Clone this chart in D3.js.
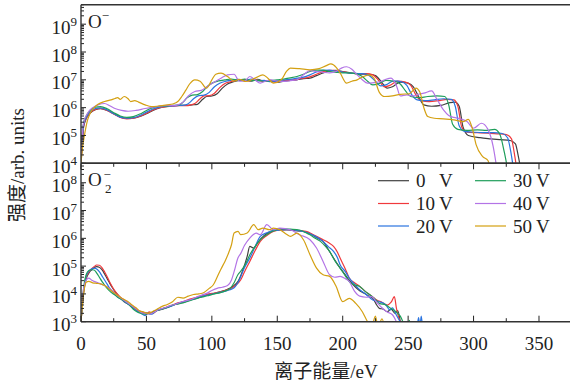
<!DOCTYPE html>
<html>
<head>
<meta charset="utf-8">
<script src="https://cdn.jsdelivr.net/npm/d3@7"></script>
<style>
  body { margin: 0; background: #fff; }
  svg text { font-family: "Liberation Serif", "DejaVu Serif", serif; fill: #222; }
</style>
</head>
<body>
<svg id="chart" width="570" height="387"></svg>
<script>
// bias voltages, one curve each
var voltages = [0, 10, 20, 30, 40, 50];
var colors = ["#404040", "#f0393c", "#2a74e0", "#1f9e5a", "#b374e6", "#d4a012"];

// points are [ion energy (eV), log10 of intensity (arb. units)]
// O- panel
var topV0 = [[0,4.0],[1,4.7],[2,5.3],[4,5.6],[7,5.8],[11,5.93],[15,5.96],[20,5.9],[25,5.78],[30,5.66],[35,5.61],[40,5.62],[45,5.68],[50,5.78],[55,5.9],[60,5.99],[65,6.04],[70,6.06],[75,6.08],[80,6.08],[85,6.1],[89,6.12],[93,6.3],[96,6.4],[100,6.42],[104,6.5],[108,6.7],[112,6.85],[116,6.92],[120,6.97],[125,7.0],[130,6.95],[135,7.02],[140,6.95],[145,6.98],[150,6.92],[155,6.95],[160,6.98],[165,7.0],[170,7.04],[175,7.06],[180,7.15],[185,7.25],[190,7.32],[195,7.34],[200,7.3],[205,7.26],[210,7.22],[215,7.2],[220,7.2],[225,7.15],[230,6.9],[234,6.7],[238,6.75],[244,6.92],[250,6.88],[254,6.75],[258,6.4],[262,6.1],[268,6.05],[275,6.08],[282,6.18],[286,6.2],[289,6.05],[292,5.3],[296,5.0],[305,4.92],[313,4.88],[320,4.85],[328,4.82],[332,4.7],[334,4.3],[336,3.8]];
var topV10 = [[0,4.0],[1,4.8],[2,5.35],[4,5.62],[7,5.82],[11,5.94],[15,5.97],[20,5.9],[25,5.77],[30,5.65],[35,5.6],[40,5.62],[45,5.69],[50,5.8],[55,5.92],[60,6.0],[65,6.04],[70,6.05],[75,6.07],[80,6.07],[84,6.1],[87,6.15],[91,6.32],[94,6.42],[98,6.43],[102,6.52],[106,6.72],[110,6.87],[114,6.93],[118,6.98],[123,7.0],[128,6.96],[133,7.02],[138,6.95],[143,6.97],[148,6.92],[153,6.95],[158,6.99],[163,7.0],[168,7.05],[173,7.08],[178,7.16],[183,7.26],[188,7.33],[193,7.34],[198,7.3],[203,7.27],[208,7.23],[213,7.22],[218,7.22],[223,7.18],[228,6.95],[232,6.75],[236,6.8],[242,6.95],[248,6.92],[252,6.8],[256,6.45],[260,6.25],[266,6.22],[273,6.25],[280,6.3],[285,6.28],[288,6.05],[291,5.3],[295,5.12],[303,5.1],[311,5.08],[318,5.06],[325,5.03],[329,4.88],[331,4.4],[333,3.8]];
var topV20 = [[0,4.0],[1,4.9],[2,5.4],[4,5.65],[7,5.85],[11,5.97],[15,5.99],[20,5.92],[25,5.78],[30,5.66],[35,5.62],[40,5.64],[45,5.72],[50,5.84],[55,5.95],[60,6.02],[65,6.05],[70,6.06],[75,6.08],[80,6.1],[83,6.18],[86,6.32],[90,6.43],[94,6.45],[98,6.55],[102,6.75],[106,6.88],[110,6.94],[114,6.98],[120,7.02],[125,6.97],[130,7.03],[135,6.96],[140,6.98],[145,6.93],[150,6.96],[155,7.0],[160,7.02],[165,7.06],[170,7.1],[175,7.18],[180,7.28],[185,7.34],[190,7.35],[195,7.31],[200,7.28],[205,7.24],[210,7.23],[215,7.22],[220,7.16],[225,6.95],[229,6.78],[233,6.82],[239,6.96],[245,6.93],[249,6.8],[253,6.45],[257,6.28],[263,6.25],[270,6.28],[277,6.32],[283,6.3],[286,6.05],[289,5.35],[293,5.15],[300,5.12],[308,5.1],[315,5.1],[322,5.07],[326,4.92],[328.5,4.4],[330.5,3.8]];
var topV30 = [[0,4.0],[1,5.0],[2,5.45],[4,5.7],[7,5.9],[11,6.02],[15,6.04],[20,5.96],[25,5.82],[30,5.7],[35,5.65],[40,5.68],[45,5.77],[50,5.9],[55,6.0],[60,6.05],[65,6.06],[70,6.08],[75,6.1],[78,6.2],[81,6.35],[85,6.45],[89,6.47],[93,6.58],[97,6.78],[101,6.9],[105,6.96],[110,7.0],[115,7.03],[120,6.98],[125,7.03],[130,6.97],[135,6.99],[140,6.94],[145,6.97],[150,7.0],[155,7.03],[160,7.07],[165,7.12],[170,7.2],[175,7.3],[180,7.35],[185,7.35],[190,7.3],[195,7.27],[200,7.25],[205,7.25],[210,7.22],[215,7.12],[219,6.95],[223,6.82],[227,6.85],[233,6.98],[239,6.95],[244,6.85],[248,6.6],[252,6.4],[258,6.36],[265,6.4],[272,6.42],[278,6.4],[281,6.1],[284,5.4],[288,5.22],[295,5.18],[303,5.2],[310,5.18],[316,5.22],[320,5.05],[323.5,4.4],[326,3.8]];
var topV40 = [[0,4.0],[1,5.0],[2,5.45],[5,5.8],[9,6.0],[13,6.1],[18,6.15],[22,6.07],[26,5.97],[31,5.9],[36,5.87],[42,5.9],[49,5.97],[55,6.02],[61,6.06],[66,6.08],[70,6.07],[74,6.1],[78,6.2],[82,6.42],[87,6.58],[92,6.62],[97,6.78],[102,6.92],[107,7.06],[112,7.18],[117,7.2],[121,6.95],[125,6.95],[129,7.12],[133,7.0],[137,6.88],[141,6.95],[145,7.0],[150,6.95],[155,6.94],[160,6.97],[165,7.0],[170,7.18],[175,7.33],[180,7.3],[185,7.27],[190,7.25],[195,7.3],[199,7.42],[203,7.47],[207,7.38],[211,7.18],[215,7.0],[219,6.88],[224,6.9],[229,6.94],[233,7.02],[237,7.06],[241,6.8],[244,6.42],[249,6.46],[254,6.42],[258,6.48],[262,6.52],[268,6.6],[272,6.3],[277,5.92],[281,5.72],[285,5.65],[290,5.6],[295,5.5],[300,5.26],[306,5.44],[311,5.22],[315,4.6],[317.5,3.9]];
var topV50 = [[0,4.0],[1,4.5],[3,5.1],[5,5.55],[7,5.8],[10,6.0],[13,6.12],[18,6.22],[23,6.28],[26,6.33],[28,6.36],[30,6.3],[33,6.4],[36,6.32],[38,6.22],[41,6.25],[44,6.2],[49,6.1],[54,6.04],[58,6.05],[62,6.07],[66,6.1],[70,6.13],[74,6.22],[77,6.4],[80,6.62],[83,6.85],[87,7.0],[91,6.95],[96,6.7],[100,7.0],[103,7.2],[107,7.24],[112,7.12],[117,6.95],[121,7.02],[126,6.94],[133,7.06],[139,7.18],[143,7.05],[147,6.88],[153,7.0],[157,7.3],[160,7.42],[167,7.4],[175,7.36],[182,7.4],[187,7.5],[191,7.57],[195,7.45],[198,7.25],[203,6.88],[207,6.95],[211,7.0],[215,7.1],[220,7.18],[224,7.05],[228,6.55],[232,6.4],[238,6.42],[244,6.48],[251,6.5],[256,6.7],[259,6.55],[262,6.0],[265,5.68],[270,5.62],[277,5.6],[285,5.56],[292,5.5],[296,5.58],[299,5.26],[302,4.66],[307,4.24],[311,4.1],[313,3.8]];

// O2- panel
var botV0 = [[0,3.0],[2,4.05],[4,4.55],[6,4.75],[8,4.86],[10,4.94],[12,4.98],[14,4.96],[16,4.87],[18,4.72],[20,4.55],[22,4.38],[24,4.22],[26,4.08],[28,3.97],[30,3.87],[33,3.72],[36,3.64],[39,3.55],[42,3.45],[45,3.36],[48,3.3],[50,3.32],[53,3.28],[56,3.38],[60,3.42],[64,3.48],[68,3.55],[72,3.62],[76,3.68],[80,3.72],[84,3.8],[88,3.84],[92,3.9],[96,3.96],[100,4.0],[104,4.05],[108,4.1],[112,4.17],[116,4.27],[120,4.45],[124,4.9],[127,5.35],[129,5.71],[132,5.65],[135,5.85],[140,6.1],[145,6.25],[150,6.3],[157,6.31],[163,6.28],[170,6.25],[176,6.15],[181,6.0],[185,5.89],[189,5.6],[193,5.29],[197,5.0],[200,4.81],[204,4.55],[208,4.33],[212,4.15],[216,4.03],[220,3.92],[223,3.84],[226,3.6],[228,3.48],[231,3.45],[234,3.36],[237,3.45],[240,3.3],[242,3.4],[244,3.0]];
var botV10 = [[0,3.0],[2,4.1],[4,4.6],[6,4.78],[8,4.9],[10,4.98],[12,5.04],[14,5.03],[16,4.95],[18,4.8],[20,4.62],[22,4.42],[24,4.25],[26,4.1],[28,3.98],[30,3.88],[33,3.78],[36,3.65],[39,3.55],[42,3.45],[45,3.38],[48,3.33],[50,3.26],[52,3.35],[55,3.3],[58,3.4],[61,3.45],[64,3.5],[67,3.55],[70,3.6],[74,3.68],[78,3.72],[82,3.8],[86,3.85],[90,3.9],[94,3.95],[98,4.0],[102,4.03],[106,4.07],[110,4.12],[114,4.18],[118,4.3],[122,4.5],[125,4.8],[129,5.17],[133,5.55],[137,5.89],[142,6.1],[147,6.25],[153,6.3],[160,6.31],[166,6.28],[172,6.25],[178,6.12],[185,5.95],[189,5.85],[193,5.71],[196,5.5],[198,5.29],[202,4.9],[205,4.57],[209,4.4],[213,4.27],[217,4.1],[221,3.96],[224,3.85],[226,3.78],[230,3.7],[234,3.6],[237,3.7],[239.5,3.9],[241,3.5],[242.5,3.2],[244,3.0]];
var botV20 = [[0,3.0],[2,4.1],[4,4.65],[6,4.82],[8,4.9],[10,4.93],[12,4.9],[14,4.8],[16,4.65],[18,4.5],[20,4.35],[22,4.2],[24,4.08],[26,3.98],[28,3.9],[31,3.8],[34,3.7],[37,3.6],[40,3.48],[43,3.38],[46,3.3],[49,3.22],[51,3.3],[54,3.27],[57,3.38],[61,3.45],[65,3.5],[69,3.56],[73,3.64],[77,3.7],[81,3.75],[85,3.8],[89,3.86],[93,3.92],[97,3.96],[101,4.0],[105,4.04],[109,4.08],[113,4.14],[117,4.22],[121,4.5],[125,4.95],[129,5.29],[133,5.7],[137,6.07],[142,6.2],[147,6.28],[153,6.3],[160,6.31],[166,6.28],[172,6.22],[178,6.1],[185,5.89],[189,5.7],[193,5.53],[196,5.3],[198,5.05],[202,4.8],[205,4.57],[209,4.35],[213,4.15],[218,3.98],[223,3.78],[228,3.72],[233,3.6],[236,3.42],[238,3.5],[241,3.24],[244,3.0],[250,2.7],[257,2.9],[258,3.15],[259,2.8],[260,3.2],[261,2.8]];
var botV30 = [[0,3.0],[2,4.2],[4,4.7],[6,4.84],[8,4.87],[10,4.86],[12,4.75],[14,4.6],[16,4.45],[18,4.32],[20,4.2],[22,4.1],[24,4.02],[26,3.96],[28,3.88],[31,3.8],[34,3.72],[37,3.6],[40,3.45],[43,3.35],[46,3.3],[49,3.27],[52,3.3],[55,3.32],[58,3.4],[62,3.46],[66,3.52],[70,3.6],[74,3.64],[78,3.68],[82,3.74],[86,3.8],[90,3.86],[94,3.9],[98,3.95],[102,4.0],[106,4.04],[110,4.1],[114,4.2],[117,4.4],[120,4.7],[122,4.81],[126,5.1],[129,5.41],[133,5.7],[137,5.95],[141,6.1],[144,6.19],[148,6.28],[152,6.35],[160,6.33],[167,6.3],[172,6.2],[175,6.13],[179,6.0],[183,5.89],[187,5.7],[190,5.53],[194,5.2],[198,4.93],[202,4.65],[206,4.39],[209,4.33],[213,4.27],[217,4.1],[221,3.96],[225,3.8],[228,3.66],[233,3.6],[236,3.5],[239,3.42],[242,3.3],[244,3.2],[246,3.0],[250,2.7],[251,3.05],[252,2.7]];
var botV40 = [[0,3.0],[2,4.2],[4,4.5],[6,4.57],[8,4.5],[10,4.45],[12,4.42],[14,4.38],[17,4.32],[20,4.26],[23,4.15],[26,4.02],[29,3.9],[32,3.8],[35,3.7],[38,3.6],[41,3.5],[44,3.4],[47,3.32],[50,3.3],[53,3.28],[56,3.35],[60,3.45],[64,3.5],[68,3.58],[72,3.62],[76,3.7],[80,3.75],[84,3.8],[88,3.88],[92,3.95],[96,4.02],[100,4.12],[104,4.2],[108,4.24],[112,4.3],[115,4.5],[117,4.8],[120,5.3],[122,5.45],[125,5.75],[129,6.01],[134,6.19],[137,6.13],[142,6.49],[147,6.31],[152,6.37],[160,6.31],[167,6.13],[175,5.95],[180,5.65],[185,5.17],[190,4.69],[194,4.6],[198,4.63],[202,4.55],[205,4.45],[209,4.1],[213,3.92],[218,3.88],[222,3.9],[226,3.7],[230,3.5],[234,3.35],[238,3.25],[241,3.0]];
var botV50 = [[0,3.0],[2,4.0],[4,4.42],[6,4.45],[9,4.4],[12,4.38],[15,4.36],[18,4.3],[21,4.2],[24,4.08],[27,3.98],[30,3.88],[33,3.8],[36,3.72],[39,3.6],[42,3.5],[45,3.38],[48,3.35],[51,3.3],[54,3.35],[58,3.45],[62,3.55],[66,3.62],[70,3.72],[74,3.88],[78,3.85],[82,3.92],[86,3.98],[90,4.0],[94,4.05],[98,4.2],[101,4.32],[104,4.6],[107,4.9],[110,5.17],[113,5.5],[115,5.77],[117,6.19],[120,6.25],[122,6.13],[127,6.19],[132,6.49],[135.5,6.31],[139,6.37],[144,6.31],[147,6.37],[152,6.31],[157,6.15],[160,6.07],[165,6.19],[170,5.95],[175,5.41],[180,4.93],[185,4.69],[190,4.63],[195,4.27],[200,3.72],[205,3.84],[210,3.66],[215,3.36],[219,3.0],[222,2.8],[225,3.2],[227,2.8],[230,3.1],[232,2.8]];

var xTickValues = [0, 50, 100, 150, 200, 250, 300, 350];
var topExponents = [4, 5, 6, 7, 8, 9];
var botExponents = [3, 4, 5, 6, 7, 8];

var svg = d3.select("#chart");
var x = d3.scaleLinear().domain([0, 375]).range([81, 571.7]);

var panels = [
  { series: [topV0, topV10, topV20, topV30, topV40, topV50], exps: topExponents,
    y: d3.scaleLog().domain([1e4, Math.pow(10, 9.7)]).range([163.3, 4.7]), id: "clipTop" },
  { series: [botV0, botV10, botV20, botV30, botV40, botV50], exps: botExponents,
    y: d3.scaleLog().domain([1e3, Math.pow(10, 8.7)]).range([321.7, 163.3]), id: "clipBot" }
];

panels.forEach(function(p, pi) {
  var y = p.y;
  var top = y.range()[1], bottom = y.range()[0];
  var left = x.range()[0], right = x.range()[1];

  svg.append("clipPath").attr("id", p.id)
    .append("rect").attr("x", left).attr("y", top)
    .attr("width", right - left).attr("height", bottom - top);

  var line = d3.line()
    .x(function(d) { return x(d[0]); })
    .y(function(d) { return y(Math.pow(10, d[1])); })
    .curve(d3.curveMonotoneX);

  svg.append("g").attr("clip-path", "url(#" + p.id + ")")
    .selectAll("path").data(p.series).enter()
    .append("path")
    .attr("d", line)
    .attr("fill", "none")
    .attr("stroke", function(d, i) { return colors[i]; })
    .attr("stroke-width", 1.2)
    .attr("stroke-linejoin", "round");

  // y ticks: majors at decades, minors 2..9
  var axis = svg.append("g");
  var lo = Math.log10(y.domain()[0]), hi = Math.log10(y.domain()[1]);
  for (var e = Math.floor(lo); e <= hi; e++) {
    for (var k = 1; k < 10; k++) {
      var v = k * Math.pow(10, e);
      if (v < y.domain()[0] || v > y.domain()[1]) continue;
      axis.append("line")
        .attr("x1", left).attr("x2", left + (k == 1 ? 5 : 3))
        .attr("y1", y(v)).attr("y2", y(v))
        .attr("stroke", "#222").attr("stroke-width", 1);
    }
  }
  var lab = axis.selectAll("text.ylab").data(p.exps).enter()
    .append("text").attr("class", "ylab")
    .attr("x", 77).attr("y", function(d) { return y(Math.pow(10, d)) + 9.5; })
    .attr("text-anchor", "end")
    .style("font-size", "19px");
  lab.append("tspan").text("10");
  lab.append("tspan").attr("dy", -8).style("font-size", "13px").text(function(d) { return d; });

  // frame
  axis.append("line").attr("x1", left).attr("x2", right).attr("y1", top).attr("y2", top)
    .attr("stroke", "#333").attr("stroke-width", 1.4);
  axis.append("line").attr("x1", left).attr("x2", right).attr("y1", bottom).attr("y2", bottom)
    .attr("stroke", "#333").attr("stroke-width", 1.4);
  axis.append("line").attr("x1", left).attr("x2", left).attr("y1", top).attr("y2", bottom)
    .attr("stroke", "#333").attr("stroke-width", 1.4);
});

// x ticks on the lower panel (top edge pointing down, bottom edge pointing up)
var bp = panels[1].y;
var xt = svg.append("g");
d3.range(0, 376, 25).forEach(function(v) {
  var len = v % 50 == 0 ? 6 : 3.5;
  xt.append("line").attr("x1", x(v)).attr("x2", x(v))
    .attr("y1", bp.range()[1]).attr("y2", bp.range()[1] + len)
    .attr("stroke", "#222");
  xt.append("line").attr("x1", x(v)).attr("x2", x(v))
    .attr("y1", bp.range()[0]).attr("y2", bp.range()[0] - len)
    .attr("stroke", "#222");
});
xt.selectAll("text").data(xTickValues).enter()
  .append("text")
  .attr("x", function(d) { return x(d); })
  .attr("y", 349.5)
  .attr("text-anchor", "middle")
  .style("font-size", "19px")
  .text(function(d) { return d; });

// panel labels
var t1 = svg.append("text").attr("x", 88).attr("y", 27.5).style("font-size", "19px");
t1.append("tspan").text("O");
t1.append("tspan").attr("dy", -8).style("font-size", "13px").text("\u2212");
svg.append("text").attr("x", 88).attr("y", 186).style("font-size", "19px").text("O");
svg.append("text").attr("x", 103.5).attr("y", 179).style("font-size", "13px").text("\u2212");
svg.append("text").attr("x", 105).attr("y", 193).style("font-size", "13px").text("2");

// axis titles
svg.append("text")
  .attr("transform", "translate(24,165) rotate(-90)")
  .attr("text-anchor", "middle")
  .style("font-size", "19px")
  .html('<tspan style="font-family:\'Noto Sans CJK SC\'">强度</tspan>/arb. units');
svg.append("text")
  .attr("x", 326).attr("y", 378)
  .attr("text-anchor", "middle")
  .style("font-size", "19px")
  .html('<tspan style="font-family:\'Noto Sans CJK SC\'">离子能量</tspan>/eV');

// legend, two columns of three
var leg = svg.append("g");
voltages.forEach(function(v, i) {
  var col = Math.floor(i / 3), row = i % 3;
  var lx = col == 0 ? 378 : 475;
  var ly = [180.7, 203.5, 226][row];
  leg.append("line").attr("x1", lx).attr("x2", lx + 31).attr("y1", ly).attr("y2", ly)
    .attr("stroke", colors[i]).attr("stroke-width", 1.2);
  leg.append("text").attr("x", lx + 38).attr("y", ly + 6.5).style("font-size", "19px").text(v);
  leg.append("text").attr("x", lx + 61).attr("y", ly + 6.5).style("font-size", "19px").text("V");
});
</script>
</body>
</html>
